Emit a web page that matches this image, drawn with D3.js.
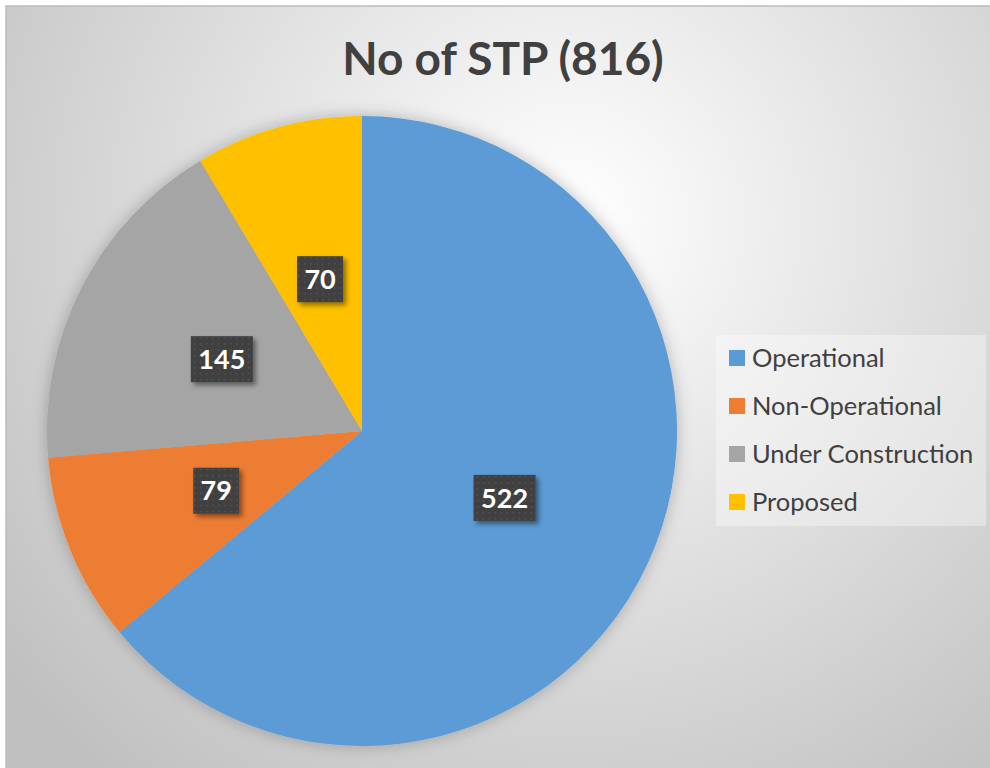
<!DOCTYPE html>
<html>
<head>
<meta charset="utf-8">
<script src="https://cdn.jsdelivr.net/npm/d3@7"></script>
<style>
  html, body { margin: 0; padding: 0; background: #fff; }
  svg { display: block; }
</style>
</head>
<body>
<svg id="chart"></svg>
<script>
// data
const categories = ['Operational', 'Non-Operational', 'Under Construction', 'Proposed'];
const values = [522, 79, 145, 70];
const colors = ['#5B9BD5', '#ED7D31', '#A5A5A5', '#FFC000'];
const title = 'No of STP (816)';

const W = 990, H = 768;
const svg = d3.select('#chart').attr('width', W).attr('height', H);
const defs = svg.append('defs');

// chart area background
const bg = defs.append('radialGradient')
    .attr('id', 'bgGrad')
    .attr('gradientUnits', 'userSpaceOnUse')
    .attr('cx', 570).attr('cy', 220).attr('r', 720);
bg.append('stop').attr('offset', '0%').attr('stop-color', '#ffffff');
bg.append('stop').attr('offset', '100%').attr('stop-color', '#c0c0c0');

// soft shadow for pie
const pieShadow = defs.append('filter').attr('id', 'pieShadow')
    .attr('x', '-20%').attr('y', '-20%').attr('width', '140%').attr('height', '140%');
pieShadow.append('feDropShadow')
    .attr('dx', 0).attr('dy', 0).attr('stdDeviation', 8)
    .attr('flood-color', '#000').attr('flood-opacity', 0.25);

// label box shadow
const boxShadow = defs.append('filter').attr('id', 'boxShadow')
    .attr('x', '-30%').attr('y', '-30%').attr('width', '160%').attr('height', '160%');
boxShadow.append('feDropShadow')
    .attr('dx', 3).attr('dy', 3).attr('stdDeviation', 2.5)
    .attr('flood-color', '#000').attr('flood-opacity', 0.45);

// dotted dark pattern for data label boxes
const pat = defs.append('pattern').attr('id', 'dots')
    .attr('patternUnits', 'userSpaceOnUse').attr('width', 6).attr('height', 6);
pat.append('rect').attr('width', 6).attr('height', 6).attr('fill', '#404040');
pat.append('rect').attr('x', 2).attr('y', 2).attr('width', 1.5).attr('height', 1.5).attr('fill', '#555');

svg.append('rect')
    .attr('x', 6).attr('y', 6).attr('width', W + 10).attr('height', H + 10)
    .attr('fill', 'url(#bgGrad)')
    .attr('stroke', '#bcbcbc').attr('stroke-width', 1.5);

// title
svg.append('text')
    .attr('x', 503).attr('y', 75)
    .attr('text-anchor', 'middle')
    .style('font-family', 'Lato, "Open Sans", sans-serif')
    .style('font-weight', 'bold')
    .style('font-size', '46px')
    .style('fill', '#404040')
    .text(title);

// pie
const cx = 362, cy = 431, R = 315;
const pie = d3.pie().sort(null).value(d => d);
const arc = d3.arc().innerRadius(0).outerRadius(R);
const arcs = pie(values);

const g = svg.append('g').attr('transform', `translate(${cx},${cy})`);

g.append('g')
    .attr('filter', 'url(#pieShadow)')
    .selectAll('path')
    .data(arcs)
    .join('path')
        .attr('d', arc)
        .attr('fill', (d, i) => colors[i]);

// data labels at slice centroids
const labels = g.selectAll('.lbl')
    .data(arcs)
    .join('g')
        .attr('class', 'lbl')
        .attr('transform', d => `translate(${arc.centroid(d)})`);

labels.append('rect')
    .attr('x', d => String(d.data).length > 2 ? -31 : -23)
    .attr('y', -23)
    .attr('width', d => String(d.data).length > 2 ? 62 : 46)
    .attr('height', 46)
    .attr('fill', 'url(#dots)')
    .attr('filter', 'url(#boxShadow)');

labels.append('text')
    .attr('text-anchor', 'middle')
    .attr('dy', '0.36em')
    .style('font-family', 'Lato, "Open Sans", sans-serif')
    .style('font-weight', 'bold')
    .style('font-size', '27px')
    .style('fill', '#fff')
    .text(d => d.data);

// legend
const lg = svg.append('g').attr('transform', 'translate(716,335)');
lg.append('rect')
    .attr('width', 270).attr('height', 191)
    .attr('fill', '#ffffff').attr('fill-opacity', 0.35);

const items = lg.selectAll('.item')
    .data(categories)
    .join('g')
        .attr('class', 'item')
        .attr('transform', (d, i) => `translate(13,${23 + i * 48})`);

items.append('rect')
    .attr('y', -8).attr('width', 16).attr('height', 16)
    .attr('fill', (d, i) => colors[i]);

items.append('text')
    .attr('x', 23).attr('dy', '0.35em')
    .style('font-family', 'Lato, "Open Sans", sans-serif')
    .style('font-size', '25.5px')
    .style('fill', '#404040')
    .text(d => d);
</script>
</body>
</html>
